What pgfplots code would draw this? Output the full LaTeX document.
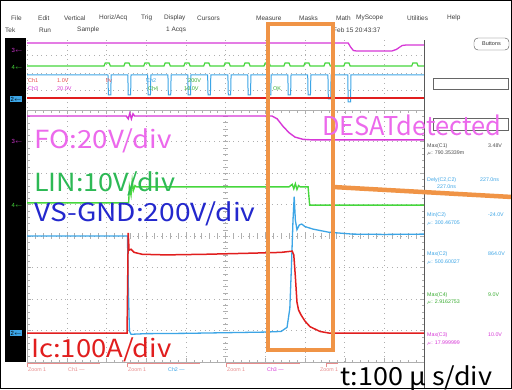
\documentclass[border=0pt]{standalone}
\usepackage{pgfplots}
\pgfplotsset{compat=1.18}
\usepackage{fontspec}
\setmainfont{Liberation Sans}
\newfontfamily\jp{Noto Sans CJK JP}
\definecolor{fo}{RGB}{215,55,215}
\definecolor{fotext}{RGB}{236,105,236}
\definecolor{lin}{RGB}{70,215,60}
\definecolor{lintext}{RGB}{45,185,85}
\definecolor{vs}{RGB}{60,165,230}
\definecolor{vstext}{RGB}{35,40,205}
\definecolor{ic}{RGB}{225,30,30}
\definecolor{orng}{RGB}{240,148,70}
\definecolor{gridc}{RGB}{175,175,175}
\definecolor{pinkt}{RGB}{232,140,140}
\begin{document}
\begin{tikzpicture}[x=1bp,y=1bp]
\useasboundingbox (0,0) rectangle (512,389);
\fill[white] (0,0) rectangle (512,389);
% left black bar
\fill[black] (5,27) rectangle (26,351);
% menu rows
\begin{scope}[every node/.style={anchor=west, inner sep=0pt, font=\fontsize{6.5}{7}\selectfont, text=black!75}]
\node at (11,371) {File}; \node at (38,371) {Edit}; \node at (64,371) {Vertical};
\node at (99,371) {Horiz/Acq}; \node at (141,371) {Trig}; \node at (164,371) {Display};
\node at (197,371) {Cursors}; \node at (256,371) {Measure}; \node at (299,371) {Masks};
\node at (336,371) {Math}; \node at (356,371) {MyScope}; \node at (407,371) {Utilities};
\node at (447,371) {Help};
\node at (5,359) {Tek}; \node at (39,359) {Run}; \node at (77,359) {Sample};
\node at (166,359) {1 Acqs}; \node at (333,359) {Feb 15 20:43:37};
\end{scope}
% Buttons & boxes in right panel
\draw[black!70, rounded corners=4bp] (474,339) rectangle (509,351);
\node[font=\fontsize{5.5}{6}\selectfont, text=black!80] at (491.5,345) {Buttons};
\draw[black!60, line width=0.8bp] (433,300) rectangle (508,311);
\draw[black!60, line width=0.8bp] (433,259) rectangle (508,271);
% ---------- overview strip ----------
\begin{axis}[at={(27bp,281bp)}, anchor=south west, scale only axis, width=397bp, height=70bp,
  xmin=0, xmax=1000, ymin=0, ymax=7, xtick={0,100,...,1000}, ytick={1.75,3.5,5.25},
  xticklabels={}, yticklabels={}, grid=major,
  major grid style={gridc, dash pattern=on 0.8bp off 4bp}, major tick length=0pt,
  axis line style={draw=none}]
\addplot[fo, line width=1.3bp] coordinates {(0,6.5)(809,6.5)(815,6.1)(822,5.75)(830,5.7)(919,5.7)(930,5.85)(945,6.25)(955,6.3)(1000,6.3)};
\addplot[lin, line width=1.2bp] coordinates {(0,4.2)(194,4.2)(197,4.5)(207,4.5)(210,4.2)(244,4.2)(247,4.5)(257,4.5)(260,4.2)(294,4.2)(297,4.5)(307,4.5)(310,4.2)(345,4.2)(348,4.5)(358,4.5)(361,4.2)(395,4.2)(398,4.5)(408,4.5)(411,4.2)(445,4.2)(448,4.5)(458,4.5)(461,4.2)(496,4.2)(499,4.5)(509,4.5)(512,4.2)(546,4.2)(549,4.5)(559,4.5)(562,4.2)(597,4.2)(600,4.5)(610,4.5)(613,4.2)(647,4.2)(650,4.5)(660,4.5)(663,4.2)(697,4.2)(700,4.5)(710,4.5)(713,4.2)(748,4.2)(751,4.5)(761,4.5)(764,4.2)(798,4.2)(801,4.5)(811,4.5)(814,4.2)(969,4.2)(972,4.5)(982,4.5)(985,4.2)(1000,4.2)};
\addplot[vs, line width=1.0bp] coordinates {(0,3.3)(204,3.3)(205,1.3)(211,1.3)(212,3.3)(254,3.3)(255,1.3)(261,1.3)(262,3.3)(304,3.3)(305,1.3)(311,1.3)(312,3.3)(355,3.3)(356,1.3)(362,1.3)(363,3.3)(405,3.3)(406,1.3)(412,1.3)(413,3.3)(455,3.3)(456,1.3)(462,1.3)(463,3.3)(506,3.3)(507,1.3)(513,1.3)(514,3.3)(556,3.3)(557,1.3)(563,1.3)(564,3.3)(607,3.3)(608,1.3)(614,1.3)(615,3.3)(657,3.3)(658,1.3)(664,1.3)(665,3.3)(707,3.3)(708,1.3)(714,1.3)(715,3.3)(758,3.3)(759,0.9)(765,0.9)(766,3.3)(808,3.3)(809,0.6)(815,0.6)(816,3.3)(1000,3.3)};
\addplot[ic, line width=1.3bp] coordinates {(0,1.0)(1000,1.0)};
\end{axis}
% overview tiny labels
\begin{scope}[every node/.style={anchor=west, inner sep=0pt, font=\fontsize{5.5}{6}\selectfont}]
\node[text=ic!80] at (28,308) {Ch1}; \node[text=ic!80] at (57,308) {1.0V};
\node[text=fo] at (28,300) {Ch3}; \node[text=fo] at (57,300) {20.0V};
\node[text=ic!80] at (106,308) {f/v}; \node[text=vs] at (146,308) {Ch2};
\node[text=lin!80!black] at (148,300) {Ch4}; \node[text=lin!80!black] at (188,308) {200V};
\node[text=lin!80!black] at (184,300) {10.0V}; \node[text=lin!80!black] at (273,300) {OK};
\end{scope}
% ---------- main grid ----------
\begin{axis}[at={(27bp,27bp)}, anchor=south west, scale only axis, width=397bp, height=252bp,
  xmin=0, xmax=1000, ymin=-4, ymax=4, xtick={0,100,...,1000}, ytick={-4,...,4},
  minor x tick num=4, minor y tick num=4, xticklabels={}, yticklabels={},
  grid=major, major grid style={gridc, dash pattern=on 0.8bp off 4bp},
  tick style={gridc}, major tick length=4bp, minor tick length=2.5bp,
  axis line style={gridc}, tick pos=both]
\pgfplotsinvokeforeach{0,20,...,1000}{\draw[gridc] (axis cs:#1,-0.08) -- (axis cs:#1,0.08);}
\pgfplotsinvokeforeach{-4,-3.8,...,4}{\draw[gridc] (axis cs:494,#1) -- (axis cs:506,#1);}
% FO
\addplot[fo, line width=1.4bp] coordinates {(0,3.81)(250,3.81)(255,3.72)(259,3.9)(263,3.72)(267,3.88)(271,3.81)(617,3.81)(630,3.72)(645,3.48)(660,3.28)(675,3.14)(695,3.07)(720,3.05)(1000,3.05)};
% LIN
\addplot[lin, line width=1.4bp] coordinates {(0,1.05)(256,1.05)(258,1.56)(262,1.3)(265,1.75)(268,1.45)(272,1.6)(276,1.56)(660,1.56)(668,1.64)(672,1.5)(676,1.66)(680,1.48)(684,1.6)(688,1.56)(708,1.56)(712,0.98)(1000,0.98)};
% VS-GND
\addplot[vs, line width=1.3bp] coordinates {(0,0)(253,0)(255,-1.5)(258,-3.02)(262,-3.12)(300,-3.1)(400,-3.09)(500,-3.07)(600,-3.05)(640,-3.03)(655,-2.9)(662,-2.3)(666,-1.0)(670,0.5)(673,1.25)(676,0.5)(680,0.2)(686,0.35)(692,0.38)(700,0.3)(720,0.22)(760,0.12)(820,0.06)(900,0.05)(1000,0.06)};
% Ic
\addplot[ic, line width=1.5bp] coordinates {(0,-3.08)(252,-3.08)(254,-1.0)(255,0.1)(257,-0.45)(262,-0.42)(270,-0.52)(290,-0.58)(350,-0.6)(450,-0.58)(550,-0.55)(640,-0.52)(668,-0.48)(672,-0.6)(676,-1.3)(680,-2.1)(684,-2.35)(690,-2.5)(700,-2.7)(713,-2.88)(738,-3.03)(760,-3.08)(1000,-3.08)};
\end{axis}
% right separator
\draw[black!65, line width=0.9bp] (424.5,0) -- (424.5,349);
% channel markers in black bar
\begin{scope}[every node/.style={inner sep=0.6pt, font=\fontsize{6}{6}\selectfont}]
\node[text=fo] at (17,339) {3$\leftarrow$};
\node[text=lin] at (17,322) {4$\leftarrow$};
\node[fill=vs, text=black] at (16,290) {2$\leftarrow$};
\node[text=fo] at (17,248) {3$\leftarrow$};
\node[text=lin] at (17,184) {4$\leftarrow$};
\node[fill=vs, text=black] at (16,56) {2$\leftarrow$};
\end{scope}
% bottom zoom labels
\begin{scope}[every node/.style={anchor=west, inner sep=0pt, font=\fontsize{5.3}{6}\selectfont, text=pinkt}]
\draw[pinkt, line width=0.6bp] (27,22) -- (27,26) -- (100,26);
\draw[pinkt, line width=0.6bp] (127,22) -- (127,26) -- (200,26);
\draw[pinkt, line width=0.6bp] (226,22) -- (226,26) -- (300,26);
\draw[pinkt, line width=0.6bp] (326,22) -- (326,26) -- (338,26);
\node at (28,19) {Zoom 1}; \node at (68,19) {Ch1 ---};
\node at (128,19) {Zoom 1}; \node[text=vs] at (168,19) {Ch2 ---};
\node at (227,19) {Zoom 1}; \node[text=fo] at (267,19) {Ch3 ---};
\node at (320,19) {Zoom 1};
\end{scope}
% right panel measurements
\begin{scope}[every node/.style={anchor=west, inner sep=0pt, font=\fontsize{5.3}{6}\selectfont}]
\node[text=black!70] at (427,243) {Max(C1)}; \node[text=black!70] at (488,243) {3.48V};
\node[text=black!70] at (427,236) {$\mu$: 790.35339m};
\node[text=vs] at (427,209) {Dely(C2,C2)}; \node[text=vs] at (480,209) {227.0ns};
\node[text=vs] at (437,202) {227.0ns};
\node[text=vs] at (427,174) {Min(C2)}; \node[text=vs] at (488,174) {-24.0V};
\node[text=vs] at (427,166) {$\mu$: 300.46705};
\node[text=vs] at (427,135) {Max(C2)}; \node[text=vs] at (488,135) {864.0V};
\node[text=vs] at (427,127) {$\mu$: 500.60027};
\node[text=lin!80!black] at (427,94) {Max(C4)}; \node[text=lin!80!black] at (488,94) {9.0V};
\node[text=lin!80!black] at (427,87) {$\mu$: 2.9162753};
\node[text=fo] at (427,54) {Max(C3)}; \node[text=fo] at (488,54) {10.0V};
\node[text=fo] at (427,46) {$\mu$: 17.999999};
\end{scope}
% orange box and line
\draw[orng, line width=4.5bp] (268,39) rectangle (333,365);
\draw[orng, line width=4.5bp] (333,202) -- (512,192);
% big labels
\begin{scope}[every node/.style={anchor=west, inner sep=0pt}]
\node[text=fotext, font=\jp\fontsize{25}{25}\selectfont, xscale=1.11] at (34,248) {FO:20V/div};
\node[text=lintext, font=\jp\fontsize{25}{25}\selectfont, xscale=1.08] at (34,205) {LIN:10V/div};
\node[text=vstext, font=\jp\fontsize{25}{25}\selectfont, xscale=1.13] at (34,175) {VS-GND:200V/div};
\node[text=ic, font=\jp\fontsize{25}{25}\selectfont, xscale=1.1] at (31,39) {Ic:100A/div};
\node[text=fotext, font=\jp\fontsize{26}{26}\selectfont, xscale=0.98] at (322,264) {DESATdetected};
\node[text=black, font=\jp\fontsize{25}{25}\selectfont, xscale=1.08] at (340,11) {t:100 μ s/div};
\end{scope}
\draw[black, line width=1.2bp] (0.6,0.6) rectangle (511.4,388.4);
\end{tikzpicture}
\end{document}
